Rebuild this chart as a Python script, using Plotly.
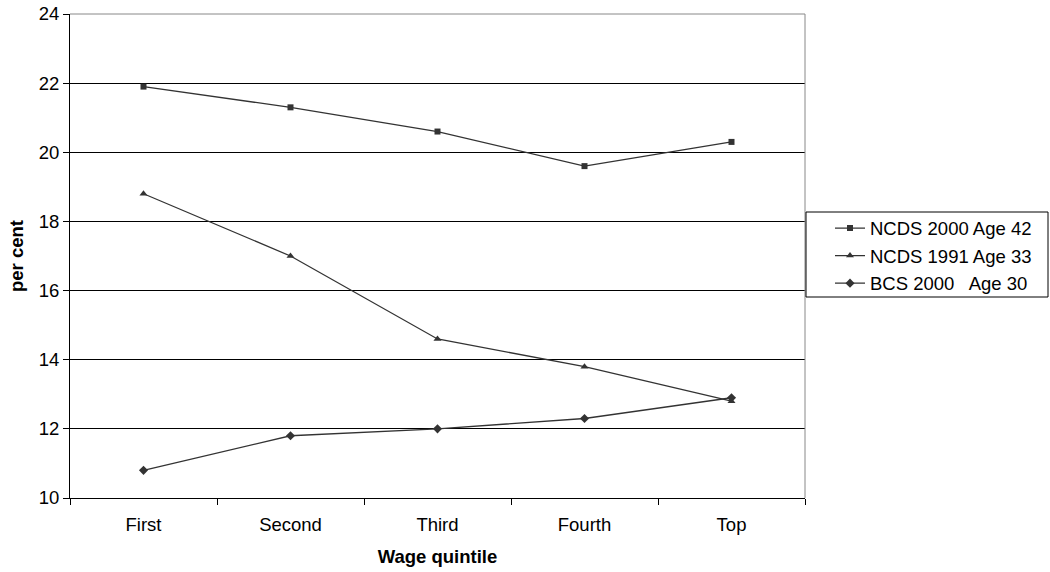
import plotly.graph_objects as go

categories = ["First", "Second", "Third", "Fourth", "Top"]
ncds2000 = [21.9, 21.3, 20.6, 19.6, 20.3]
ncds1991 = [18.8, 17.0, 14.6, 13.8, 12.8]
bcs2000 = [10.8, 11.8, 12.0, 12.3, 12.9]
series_names = ["NCDS 2000 Age 42", "NCDS 1991 Age 33", "BCS 2000   Age 30"]
y_ticks = [10, 12, 14, 16, 18, 20, 22, 24]

line_col = "#333333"
FS = 18.5
fig = go.Figure()
for name, vals, sym, sz in zip(series_names, [ncds2000, ncds1991, bcs2000],
                               ["square", "triangle-up", "diamond"], [6, 7, 7]):
    fig.add_trace(go.Scatter(
        x=categories, y=vals, name=name, mode="lines+markers",
        legendgroup=name,
        line=dict(color=line_col, width=1.3),
        marker=dict(symbol=sym, size=sz, color=line_col),
    ))

fig.update_layout(
    width=1050, height=572,
    margin=dict(l=70, r=245, t=14, b=74),
    paper_bgcolor="white", plot_bgcolor="white",
    font=dict(family="Liberation Sans, Arial, sans-serif", size=FS, color="black"),
    showlegend=True,
    legend=dict(
        x=(830 - 70) / 735, y=0.5, xanchor="left", yanchor="middle",
        borderwidth=0, bgcolor="rgba(0,0,0,0)",
        font=dict(size=FS), tracegroupgap=0.5, itemwidth=30,
    ),
    xaxis=dict(
        type="category", range=[-0.5, 4.5], tickson="boundaries",
        ticks="outside", ticklen=6, tickcolor="black",
        showline=True, linecolor="black", linewidth=1,
        showgrid=False, tickfont=dict(size=FS), ticklabelstandoff=10,
        automargin=False,
        title=dict(text="<b>Wage quintile</b>", font=dict(size=FS), standoff=15),
    ),
    yaxis=dict(
        range=[10, 24], tickvals=y_ticks, ticks="outside", ticklen=6,
        tickcolor="black", showline=True, linecolor="black", linewidth=1,
        showgrid=True, gridcolor="black", gridwidth=1, zeroline=False,
        tickfont=dict(size=FS), automargin=False,
        title=dict(text="<b>per cent</b>", font=dict(size=FS), standoff=10),
    ),
    shapes=[
        dict(type="line", xref="paper", yref="paper", x0=0, x1=1, y0=1, y1=1,
             line=dict(color="#888888", width=1), layer="above"),
        dict(type="line", xref="paper", yref="paper", x0=1, x1=1, y0=0, y1=1,
             line=dict(color="#888888", width=1), layer="above"),
        dict(type="rect", xref="paper", yref="paper",
             x0=(806 - 70) / 735, x1=(1048 - 70) / 735,
             y0=(498 - 297) / 484, y1=(498 - 212) / 484,
             line=dict(color="black", width=1), layer="above"),
    ],
)

fig.write_html("out.html")
